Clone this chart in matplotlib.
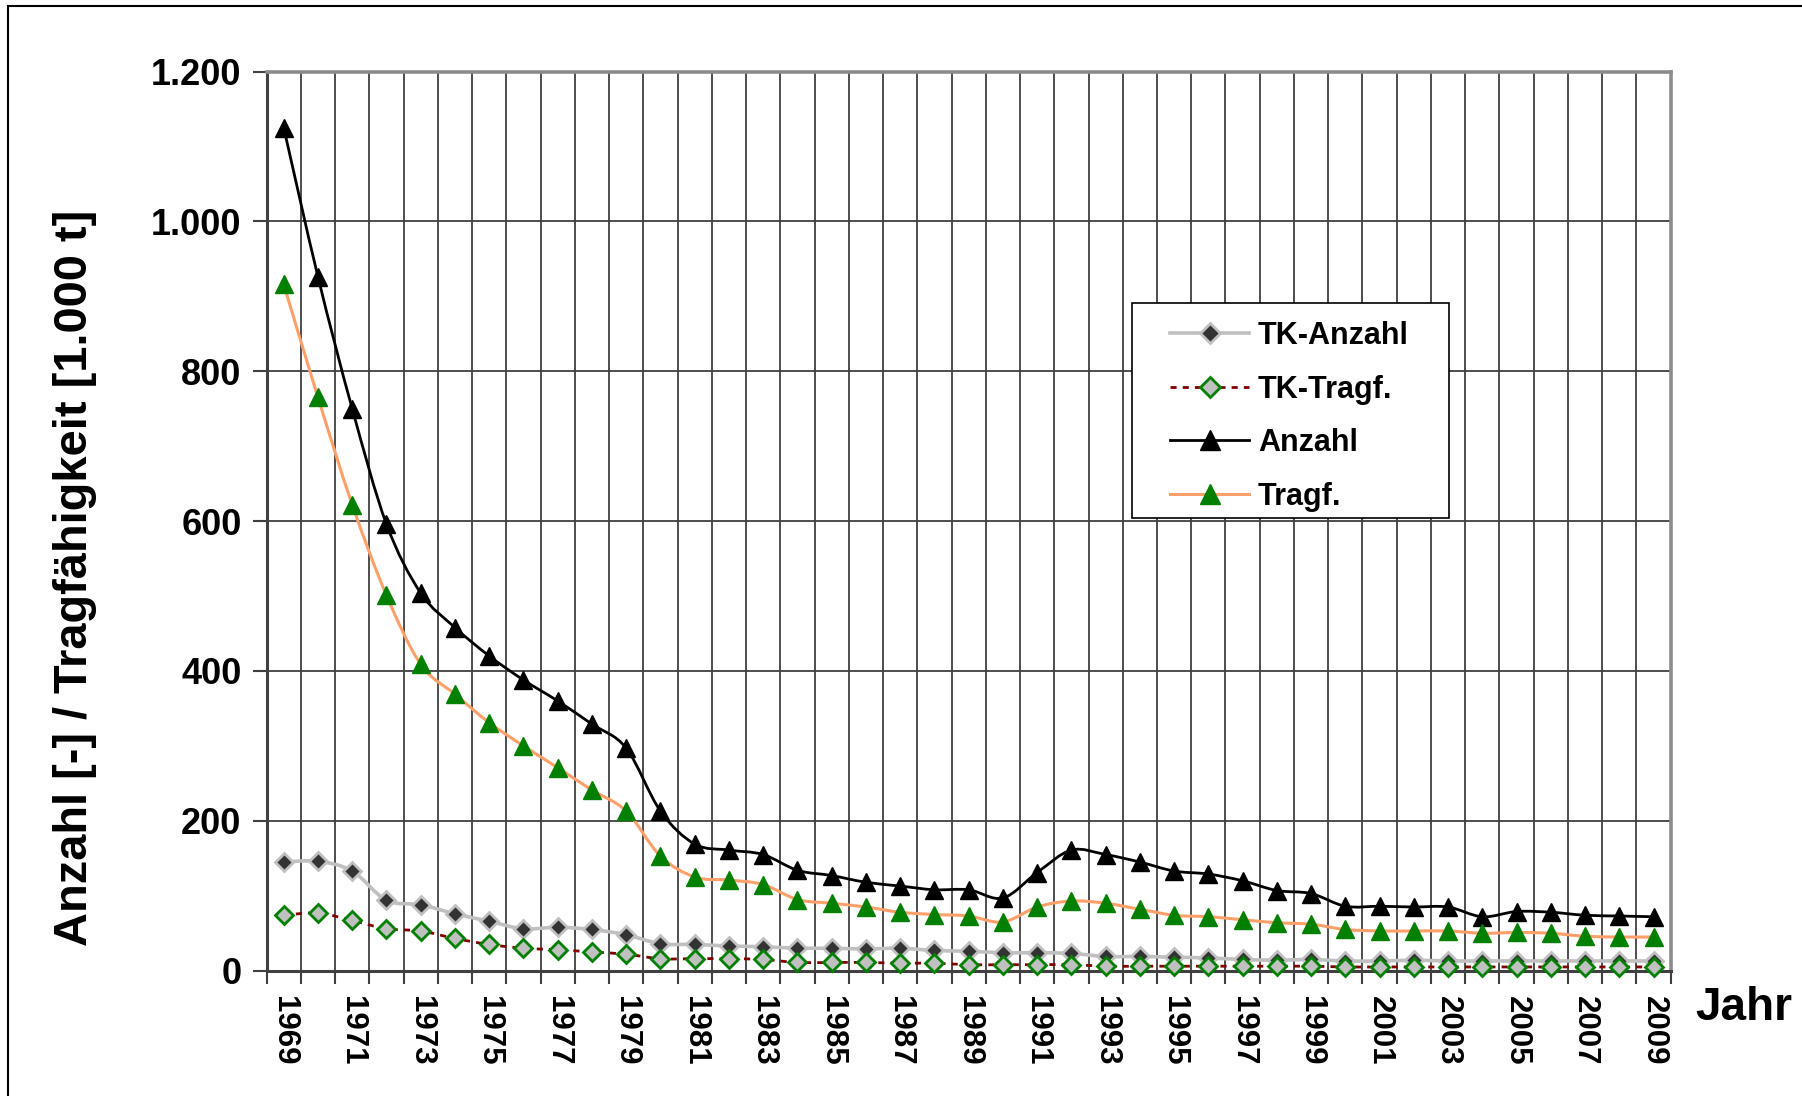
import numpy as np
import matplotlib
matplotlib.use("Agg")
import matplotlib.pyplot as plt
from matplotlib.path import Path
from matplotlib.patches import PathPatch, Rectangle
from matplotlib.lines import Line2D
from matplotlib.ticker import FuncFormatter

plt.rcParams['font.family'] = ['Liberation Sans', 'DejaVu Sans']
plt.rcParams['font.weight'] = 'bold'

years = list(range(1969, 2010))
anzahl = [1125, 926, 750, 596, 504, 458, 420, 388, 360, 329,
          297, 213, 169, 161, 155, 134, 127, 118, 113, 108,
          108, 97, 131, 161, 155, 145, 133, 129, 120, 107,
          103, 86, 86, 85, 85, 72, 79, 78, 74, 73, 72]
tragf = [916, 765, 622, 501, 409, 369, 331, 300, 271, 241,
         213, 153, 125, 121, 115, 95, 90, 85, 78, 75,
         73, 65, 85, 93, 90, 82, 74, 72, 68, 64,
         62, 55, 53, 53, 53, 50, 51, 50, 46, 45, 45]
tk_anzahl = [145, 146, 133, 94, 88, 76, 66, 56, 58, 55,
             48, 36, 35, 33, 32, 30, 30, 29, 30, 27,
             26, 24, 24, 23, 19, 19, 18, 17, 15, 14,
             15, 13, 13, 14, 13, 13, 13, 13, 13, 13, 13]
tk_tragf = [74, 77, 67, 56, 53, 43, 35, 30, 28, 25,
            22, 16, 16, 16, 15, 11, 11, 11, 10, 10,
            8, 8, 8, 8, 6, 6, 6, 6, 6, 6,
            6, 5, 5, 5, 5, 5, 5, 5, 5, 5, 5]
y_ticks = [0, 200, 400, 600, 800, 1000, 1200]
labels = ["TK-Anzahl", "TK-Tragf.", "Anzahl", "Tragf."]

W, H = 1802, 1096
fig = plt.figure(figsize=(W/100, H/100), dpi=100)
ax = fig.add_axes([266.6/W, 1-970.7/H, (1670.7-266.6)/W, (970.7-71.5)/H])

x = np.arange(len(years))


def smooth_path(xs, ys):
    pts = np.column_stack([xs, ys]).astype(float)
    n = len(pts)
    verts = [pts[0]]
    codes = [Path.MOVETO]
    for i in range(n - 1):
        p0 = pts[i - 1] if i > 0 else pts[i]
        p1 = pts[i]
        p2 = pts[i + 1]
        p3 = pts[i + 2] if i + 2 < n else pts[i + 1]
        c1 = p1 + (p2 - p0) / 6.0
        c2 = p2 - (p3 - p1) / 6.0
        verts += [c1, c2, p2]
        codes += [Path.CURVE4] * 3
    return Path(verts, codes)


series = [
    dict(y=tk_anzahl, lc='#c0c0c0', lw=2.6, ls='-', m='D', ms=9.5, mfc='#333333', mec='#c0c0c0', mew=2.0, z=3),
    dict(y=tk_tragf, lc='#800000', lw=2.0, ls=(0, (2.2, 2.2)), m='D', ms=9.5, mfc='#c0c0c0', mec='#008000', mew=2.0, z=4),
    dict(y=anzahl, lc='#000000', lw=2.0, ls='-', m='^', ms=13, mfc='#000000', mec='#000000', mew=1.0, z=5),
    dict(y=tragf, lc='#ffa06a', lw=2.2, ls='-', m='^', ms=13, mfc='#008000', mec='#008000', mew=1.0, z=6),
]

handles = []
for s, lab in zip(series, labels):
    patch = PathPatch(smooth_path(x, s['y']), fill=False, edgecolor=s['lc'], lw=s['lw'],
                      linestyle=s['ls'], zorder=s['z'], capstyle='butt')
    ax.add_patch(patch)
    ax.plot(x, s['y'], linestyle='none', marker=s['m'], markersize=s['ms'],
            markerfacecolor=s['mfc'], markeredgecolor=s['mec'], markeredgewidth=s['mew'],
            zorder=s['z'] + 0.5, clip_on=False)
    handles.append(Line2D([], [], color=s['lc'], lw=s['lw'], linestyle=s['ls'], marker=s['m'],
                          markersize=s['ms'] + 1, markerfacecolor=s['mfc'], markeredgecolor=s['mec'],
                          markeredgewidth=s['mew']))

ax.set_xlim(-0.5, len(years) - 0.5)
ax.set_ylim(0, 1200)

# category boundaries as major ticks with grid
ax.set_xticks(np.arange(-0.5, len(years), 1.0))
ax.set_xticklabels([])
ax.tick_params(axis='x', which='major', direction='out', length=9, width=1.5, color='#404040')
ax.set_xticks(x[::2], minor=True)
ax.set_xticklabels([str(y) for y in years[::2]], minor=True, rotation=-90,
                   fontsize=22.5, fontweight='bold')
ax.tick_params(axis='x', which='minor', length=0, pad=18.5)

ax.set_yticks(y_ticks)
ax.yaxis.set_major_formatter(FuncFormatter(lambda v, p: f"{int(v):,}".replace(",", ".")))
ax.tick_params(axis='y', direction='out', length=10, width=1.5, color='#404040', labelsize=26, pad=8)
for t in ax.get_yticklabels():
    t.set_fontweight('bold')

ax.grid(True, which='major', axis='both', color='#404040', linewidth=1.3, zorder=0)
ax.set_axisbelow(True)

ax.spines['left'].set_color('#404040')
ax.spines['left'].set_linewidth(2.2)
ax.spines['bottom'].set_color('#404040')
ax.spines['bottom'].set_linewidth(2.2)
ax.spines['top'].set_color('#8c8c8c')
ax.spines['top'].set_linewidth(2.6)
ax.spines['right'].set_color('#8c8c8c')
ax.spines['right'].set_linewidth(2.6)

fig.text(75/W, 1-578/H, "Anzahl [-] / Tragfähigkeit [1.000 t]", rotation=90,
         ha='center', va='center', fontsize=33.8, fontweight='bold')
fig.text(1695/W, 1-1008/H, "Jahr", ha='left', va='center', fontsize=33, fontweight='bold')

# legend box (Excel-like padding)
fig.patches.append(Rectangle((1132/W, 1-518/H), (1449-1132)/W, (518-303)/H, transform=fig.transFigure,
                             facecolor='white', edgecolor='#000000', linewidth=1.2, zorder=2))
leg = fig.legend(handles, labels, loc='upper left', bbox_to_anchor=(1170/W, 1-321/H),
                 bbox_transform=fig.transFigure, borderaxespad=0, borderpad=0, frameon=False,
                 prop={'size': 22, 'weight': 'bold'},
                 handlelength=2.6, labelspacing=0.77, handletextpad=0.28)
leg.set_zorder(3)

# outer figure border (top and left visible)
fig.patches.append(Rectangle((8/W, -0.05), 1.2, 1.05 - 6/H, transform=fig.transFigure,
                             fill=False, edgecolor='black', linewidth=1.5, zorder=-1))

fig.savefig("out.png", dpi=100)
